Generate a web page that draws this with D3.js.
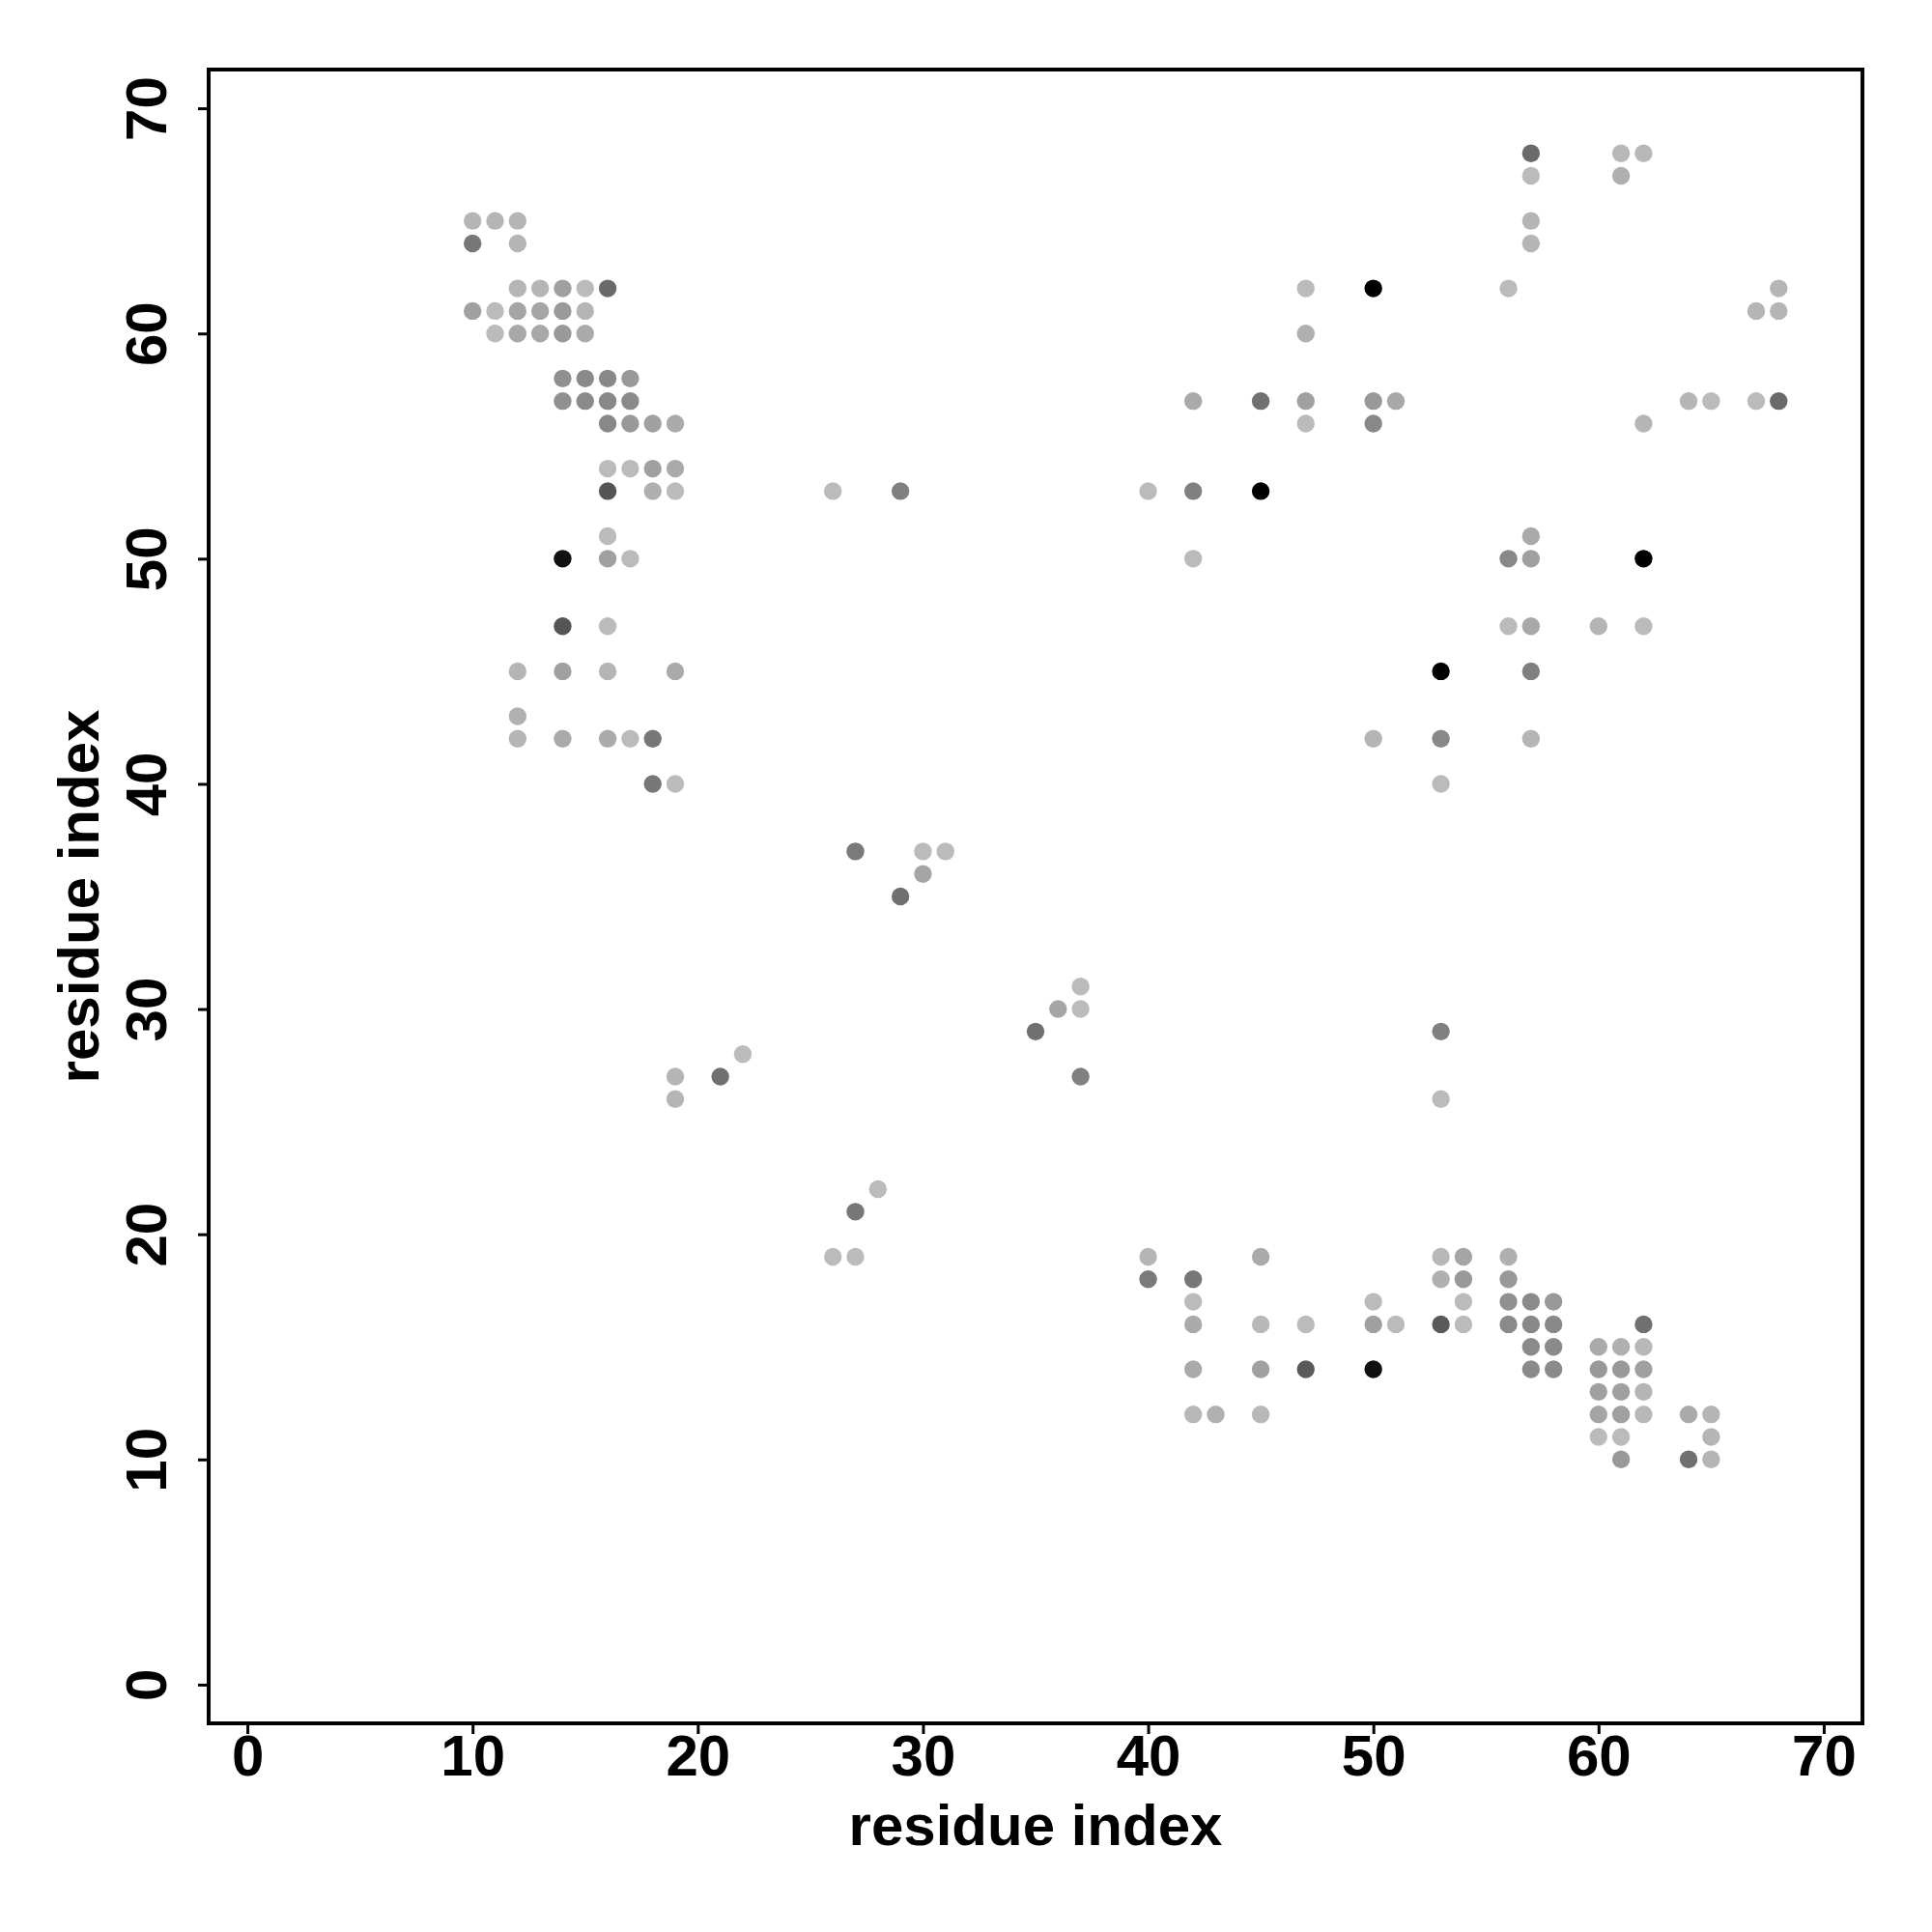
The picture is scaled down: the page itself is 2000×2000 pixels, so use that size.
<!DOCTYPE html>
<html>
<head>
<meta charset="utf-8">
<script src="https://cdn.jsdelivr.net/npm/d3@7"></script>
<style>
  html, body { margin: 0; padding: 0; background: #ffffff; }
  text { font-family: "Liberation Sans", Arial, Helvetica, sans-serif; font-weight: bold; }
</style>
</head>
<body>
<div id="chart"></div>
<script>
// residue i (x), residue j (y), gray level of the contact dot (0 = black, 255 = white)
const resI = [
  10,11,12, 10,12, 12,13,14,15,16, 10,11,12,13,14,15, 11,12,13,14,15,
  14,15,16,17, 14,15,16,17, 16,17,18,19, 16,17,18,19, 16,18,19, 16,
  14,16,17, 14,16, 12,14,16,19, 12, 12,14,16,17,18, 18,19,
  26,29, 27,30,31, 30, 29, 37, 36,37, 35, 22, 19,21,37, 19, 28, 27, 26,27,
  57,61,62, 57,61, 57,57, 47,50,56,68, 67,68, 47,
  42,45,47,50,51,64,65,67,68, 47,50,62, 40,42,45, 57, 42,56,57,62,
  56,57,60,62, 53,57, 50,53,57, 53, 53,53,
  40,45,53,54,56, 40,42,53,54,56, 42,50,54,56,57,58,
  42,45,47,50,51,53,54,56,57,58,62, 57,58,60,61,62,
  42,45,47,50,57,58,60,61,62, 60,61,62,
  42,43,45,60,61,62,64,65, 60,61,65, 61,64,65
];
const resJ = [
  65,65,65, 64,64, 62,62,62,62,62, 61,61,61,61,61,61, 60,60,60,60,60,
  58,58,58,58, 57,57,57,57, 56,56,56,56, 54,54,54,54, 53,53,53, 51,
  50,50,50, 47,47, 45,45,45,45, 43, 42,42,42,42,42, 40,40,
  53,53, 37,37,37, 36, 35, 31, 30,30, 29, 28, 27,27,27, 26, 22, 21, 19,19,
  68,68,68, 67,67, 65,64, 62,62,62,62, 61,61, 60,
  57,57,57,57,57,57,57,57,57, 56,56,56, 53,53,53, 51, 50,50,50,50,
  47,47,47,47, 45,45, 42,42,42, 40, 29,26,
  19,19,19,19,19, 18,18,18,18,18, 17,17,17,17,17,17,
  16,16,16,16,16,16,16,16,16,16,16, 15,15,15,15,15,
  14,14,14,14,14,14,14,14,14, 13,13,13,
  12,12,12,12,12,12,12,12, 11,11,11, 10,10,10
];
const grayLevel = [
  181,181,181, 119,181, 181,181,160,187,106, 160,187,165,165,154,181, 187,168,168,153,170,
  144,138,136,153, 144,138,136,138, 136,153,160,170, 187,187,160,170, 85,176,187, 187,
  17,160,187, 85,187, 181,160,181,170, 176, 181,170,170,187,119, 119,187,
  187,128, 122,187,187, 165, 112, 187, 165,187, 112, 187, 181,112,128, 181, 187, 119, 187,187,
  106,184,184, 187,176, 181,181, 187,0,187,181, 181,181, 176,
  170,112,160,153,168,181,187,187,106, 187,136,181, 187,128,0, 170, 187,136,160,0,
  187,168,181,187, 0,128, 181,136,181, 187, 128,187,
  181,170,184,165,176, 122,119,176,153,153, 187,187,187,144,138,153,
  170,184,187,160,187,90,187,138,136,136,112, 138,138,170,176,184,
  170,160,90,17,138,138,153,153,160, 160,160,181,
  184,176,184,165,160,184,170,181, 187,187,181, 153,112,181
];
const tickValues = [0, 10, 20, 30, 40, 50, 60, 70];
const xLabel = "residue index";
const yLabel = "residue index";

const W = 2000, H = 2000;
const plot = { left: 216, top: 72, width: 1712, height: 1712 };
const domain = [1 - 0.04 * 68, 69 + 0.04 * 68];

const svg = d3.select("#chart").append("svg")
  .attr("width", W).attr("height", H)
  .style("background", "#ffffff");

svg.append("rect").attr("x", 0).attr("y", 0).attr("width", W).attr("height", H).attr("fill", "#ffffff");

const x = d3.scaleLinear().domain(domain).range([plot.left, plot.left + plot.width]);
const y = d3.scaleLinear().domain(domain).range([plot.top + plot.height, plot.top]);

const points = resI.map((d, i) => ({ i: d, j: resJ[i], g: grayLevel[i] }));

svg.append("g").selectAll("circle")
  .data(points)
  .enter().append("circle")
  .attr("cx", d => x(d.i))
  .attr("cy", d => y(d.j))
  .attr("r", 9.2)
  .attr("fill", d => d3.rgb(d.g, d.g, d.g).formatHex());

// x axis
const gx = svg.append("g")
  .attr("transform", `translate(0,${plot.top + plot.height})`)
  .call(d3.axisBottom(x).tickValues(tickValues).tickSize(11).tickSizeOuter(0).tickFormat(d3.format("d")));
gx.select(".domain").remove();
gx.selectAll(".tick line").attr("stroke", "#000").attr("stroke-width", 3);
gx.selectAll(".tick text")
  .attr("y", 11).attr("dy", "0.72em")
  .attr("fill", "#000")
  .style("font-size", "60px");

// y axis
const gy = svg.append("g")
  .attr("transform", `translate(${plot.left},0)`)
  .call(d3.axisLeft(y).tickValues(tickValues).tickSize(11).tickSizeOuter(0).tickFormat(d3.format("d")));
gy.select(".domain").remove();
gy.selectAll(".tick line").attr("stroke", "#000").attr("stroke-width", 3);
gy.selectAll(".tick text")
  .attr("transform", "rotate(-90)")
  .attr("x", 0).attr("y", -44).attr("dy", 0)
  .attr("text-anchor", "middle")
  .attr("fill", "#000")
  .style("font-size", "60px");

// frame
svg.append("rect")
  .attr("x", plot.left).attr("y", plot.top)
  .attr("width", plot.width).attr("height", plot.height)
  .attr("fill", "none").attr("stroke", "#000").attr("stroke-width", 4);

// axis titles
svg.append("text")
  .attr("x", plot.left + plot.width / 2).attr("y", 1910)
  .attr("text-anchor", "middle")
  .style("font-size", "60px")
  .attr("fill", "#000")
  .text(xLabel);

svg.append("text")
  .attr("transform", `translate(102,${plot.top + plot.height / 2}) rotate(-90)`)
  .attr("text-anchor", "middle")
  .style("font-size", "60px")
  .attr("fill", "#000")
  .text(yLabel);
</script>
</body>
</html>
